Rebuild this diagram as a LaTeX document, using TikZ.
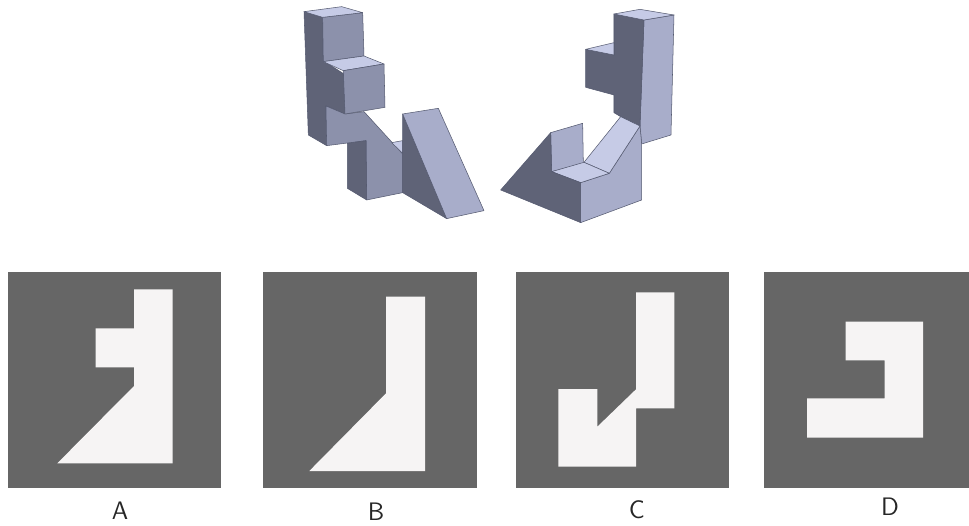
\documentclass[tikz,border=0pt]{standalone}
\definecolor{facetop}{HTML}{C6CBE6}
\definecolor{facelight}{HTML}{A8ADCA}
\definecolor{facemid}{HTML}{8C91AB}
\definecolor{facedark}{HTML}{5F6377}
\definecolor{faceedge}{HTML}{555A70}
\definecolor{panelgray}{HTML}{666666}
\definecolor{shapewhite}{HTML}{F6F4F4}

\begin{document}
\begin{tikzpicture}[
    x=0.02cm, y=-0.02cm,
    topface/.style={fill=facetop, draw=faceedge, line width=0.3pt, line join=round},
    lightface/.style={fill=facelight, draw=faceedge, line width=0.3pt, line join=round},
    midface/.style={fill=facemid, draw=faceedge, line width=0.3pt, line join=round},
    darkface/.style={fill=facedark, draw=faceedge, line width=0.3pt, line join=round},
    panel/.style={fill=panelgray},
    cutout/.style={fill=shapewhite},
    optlabel/.style={font=\sffamily\Large, text=black!85, inner sep=0pt}
]

\useasboundingbox (0, 0) rectangle (969, 526);

% Left solid
\begin{scope}[shift={(290, 0)}, scale=0.3333]
\draw[darkface] (42,35) -- (98,52) -- (100,182) -- (162,222) -- (165,342) -- (108,318) -- (110,437) -- (55,405) -- cycle;
\draw[midface] (98,52) -- (218,38) -- (222,168) -- (100,185) -- cycle;
\draw[topface] (42,35) -- (155,20) -- (218,38) -- (98,52) -- cycle;
\draw[midface] (108,318) -- (165,342) -- (222,335) -- (338,462) -- (338,578) -- (230,600) -- (228,422) -- (110,437) -- cycle;
\draw[darkface] (172,430) -- (228,422) -- (230,600) -- (172,565) -- cycle;
\draw[topface] (305,428) -- (338,422) -- (338,460) -- cycle;
\draw[topface] (100,185) -- (222,168) -- (282,192) -- (160,212) -- cycle;
\draw[midface] (160,212) -- (282,192) -- (285,322) -- (165,342) -- cycle;
\draw[darkface] (338,342) -- (470,656) -- (338,578) -- cycle;
\draw[lightface] (338,342) -- (445,325) -- (582,632) -- (470,656) -- cycle;
\end{scope}

% Right solid
\begin{scope}[shift={(490, 0)}, scale=0.3333]
\draw[lightface] (462,60) -- (552,45) -- (543,405) -- (455,432) -- (450,378) -- cycle;
\draw[darkface] (372,42) -- (462,60) -- (450,378) -- (392,350) -- (372,338) -- (372,285) -- (287,262) -- (287,148) -- (372,165) -- cycle;
\draw[topface] (372,42) -- (450,28) -- (552,45) -- (462,60) -- cycle;
\draw[topface] (287,148) -- (372,128) -- (372,165) -- cycle;
\draw[lightface] (358,520) -- (450,378) -- (455,432) -- (455,600) -- (272,668) -- (272,548) -- cycle;
\draw[topface] (392,350) -- (450,378) -- (358,520) -- (282,487) -- cycle;
\draw[lightface] (182,398) -- (278,370) -- (280,490) -- (185,515) -- cycle;
\draw[topface] (185,515) -- (282,487) -- (358,520) -- (272,548) -- cycle;
\draw[darkface] (182,398) -- (185,515) -- (272,548) -- (272,668) -- (32,570) -- cycle;
\end{scope}

% Panel A
\fill[panel] (8, 272) rectangle (220.5, 487.7);
\fill[cutout] (134,289.3) -- (172.7,289.3) -- (172.7,463.3) -- (57.3,463.3) -- (134,386) -- (134,367.3) -- (95.7,367.3) -- (95.7,328.3) -- (134,328.3) -- cycle;
\node[optlabel] (labelA) at (120, 510.7) {A};

% Panel B
\fill[panel] (263.3, 272) rectangle (476.7, 487.7);
\fill[cutout] (386,296.7) -- (425,296.7) -- (425,471) -- (309.3,471) -- (386,393.3) -- cycle;
\node[optlabel] (labelB) at (376, 511.7) {B};

% Panel C
\fill[panel] (516, 272) rectangle (729, 487.7);
\fill[cutout] (636,292.3) -- (674.3,292.3) -- (674.3,408.3) -- (636,408.3) -- (636,466.7) -- (558.3,466.7) -- (558.3,389) -- (597.3,389) -- (597.3,426.7) -- (636,389.3) -- cycle;
\node[optlabel] (labelC) at (636.7, 510) {C};

% Panel D
\fill[panel] (764, 272) rectangle (969, 487.7);
\fill[cutout] (845.7,321.7) -- (923,321.7) -- (923,437.7) -- (807,437.7) -- (807,398.3) -- (884.7,398.3) -- (884.7,360.3) -- (845.7,360.3) -- cycle;
\node[optlabel] (labelD) at (890, 507) {D};

\end{tikzpicture}
\end{document}
